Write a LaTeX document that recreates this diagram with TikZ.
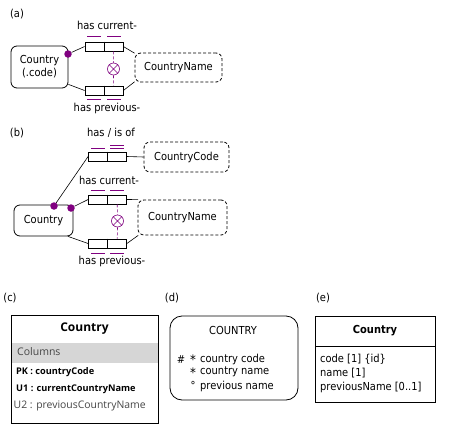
\documentclass[tikz,border=0pt]{standalone}
\usepackage{fontspec}
\setmainfont{DejaVu Sans}[FakeStretch=0.9]
\newfontfamily\segoe{Open Sans}
\usetikzlibrary{calc}
\definecolor{ormpurple}{RGB}{128,0,128}
\definecolor{bandgray}{RGB}{214,214,214}
\definecolor{txtgray}{RGB}{70,70,70}
\tikzset{
  lbl/.style={inner sep=0, font=\fontsize{11}{13}\selectfont},
  ent/.style={draw, rounded corners=6pt, inner sep=0, line width=0.8pt, align=center, font=\fontsize{11}{13}\selectfont},
  val/.style={ent, dash pattern=on 3pt off 2pt},
  rolebox/.style={draw, minimum width=38pt, minimum height=9pt, inner sep=0, line width=0.8pt},
  conn/.style={line width=0.6pt},
  ubar/.style={draw=ormpurple, line width=1pt},
  rdot/.style={circle, fill=ormpurple, minimum size=7.5pt, inner sep=0},
  xcirc/.style={circle, draw=ormpurple, minimum size=12pt, inner sep=0, line width=0.6pt},
  subl/.style={draw=ormpurple, line width=0.6pt, dash pattern=on 3pt off 2pt},
  tbl/.style={inner sep=0, anchor=west},
}
\begin{document}
\begin{tikzpicture}[x=1pt,y=-1pt]
\useasboundingbox[fill=white] (0,0) rectangle (450,437);

% ---------------- panel (a)
\node[lbl] (la) at (17,14) {(a)};
\node[lbl] (tA1) at (107,25) {has current-};
\node[lbl] (tA2) at (107,108) {has previous-};
\node[ent, minimum width=57pt, minimum height=42pt] (cA) at (39.5,67) {Country\\(.code)};
\node[val, minimum width=87pt, minimum height=29pt] (vA) at (178.5,67.5) {CountryName};
\node[rolebox] (rA1) at (104,46.5) {};
\node[rolebox] (rA2) at (104,90.5) {};
\draw[conn] (rA1.north) -- (rA1.south);
\draw[conn] (rA2.north) -- (rA2.south);
\draw[ubar] (87,36) -- (101,36) (107,36) -- (121,36);
\draw[ubar] (87,99) -- (101,99) (107,99) -- (121,99);
\node[rdot] (dA) at (68,54) {};
\draw[conn] (dA) -- (rA1.west);
\draw[conn] (cA.-31) -- (rA2.west);
\draw[conn] (rA1.east) -- (vA.162);
\draw[conn] (rA2.east) -- (vA.198);
\node[xcirc] (xA) at (113.5,69) {};
\draw[draw=ormpurple, line width=0.6pt] (xA.45) -- (xA.225) (xA.135) -- (xA.315);
\draw[subl] ($(rA1.south)!0.5!(rA1.south east)$) -- (xA.north);
\draw[subl] (xA.south) -- ($(rA2.north)!0.5!(rA2.north east)$);

% ---------------- panel (b)
\node[lbl] (lb) at (17,133) {(b)};
\node[lbl] (tB0) at (111,133) {has / is of};
\node[lbl] (tB1) at (109,180) {has current-};
\node[lbl] (tB2) at (112,261) {has previous-};
\node[ent, minimum width=59pt, minimum height=31pt] (cB) at (43.5,220.5) {Country};
\node[val, minimum width=85pt, minimum height=30pt] (kB) at (186.5,157) {CountryCode};
\node[val, minimum width=89pt, minimum height=35pt] (vB) at (182.5,217.5) {CountryName};
\node[rolebox] (rB0) at (107.5,156.5) {};
\node[rolebox] (rB1) at (107.5,199.5) {};
\node[rolebox] (rB2) at (107.5,243.5) {};
\draw[conn] (rB0.north) -- (rB0.south);
\draw[conn] (rB1.north) -- (rB1.south);
\draw[conn] (rB2.north) -- (rB2.south);
\draw[ubar] (91,148) -- (105,148) (110,148) -- (124,148) (110,145) -- (124,145);
\draw[ubar] (91,190) -- (105,190) (110,190) -- (124,190);
\draw[ubar] (91,253) -- (105,253) (110,253) -- (124,253);
\node[rdot] (dB1) at (54,206) {};
\node[rdot] (dB2) at (71,208) {};
\draw[conn] (dB1) -- (rB0.west);
\draw[conn] (dB2) -- (rB1.west);
\draw[conn] (cB.-33) -- (rB2.west);
\draw[conn] (rB0.east) -- (kB.west);
\draw[conn] (rB1.east) -- (vB.158);
\draw[conn] (rB2.east) -- (vB.202);
\node[xcirc] (xB) at (117.5,221) {};
\draw[draw=ormpurple, line width=0.6pt] (xB.45) -- (xB.225) (xB.135) -- (xB.315);
\draw[subl] ($(rB1.south)!0.5!(rB1.south east)$) -- (xB.north);
\draw[subl] (xB.south) -- ($(rB2.north)!0.5!(rB2.north east)$);

% ---------------- panel (c)
\node[lbl] (lc) at (10,298) {(c)};
\fill[bandgray] (11.5,343) rectangle (157.5,363);
\draw[line width=1pt] (11,315) rectangle (158,423);
\node[inner sep=0, font=\segoe\bfseries\fontsize{12}{14}\selectfont] (cT) at (84.5,329) {Country};
\node[tbl, text=txtgray, font=\segoe\fontsize{10.5}{12}\selectfont] (cCol) at (17,352) {Columns};
\node[tbl, font=\segoe\bfseries\fontsize{9.2}{11}\selectfont] (cPK) at (16,372) {PK : countryCode};
\node[tbl, font=\segoe\bfseries\fontsize{9.2}{11}\selectfont] (cU1) at (16,389) {U1 : currentCountryName};
\node[tbl, text=txtgray, font=\segoe\fontsize{10.4}{12}\selectfont] (cU2) at (13.5,406) {U2 : previousCountryName};

% ---------------- panel (d)
\node[lbl] (ld) at (172,298) {(d)};
\draw[line width=0.8pt, rounded corners=12pt] (170,316) rectangle (298,400);
\node[lbl] (dT) at (233,330) {COUNTRY};
\node[lbl] (dH) at (181,360) {\#};
\node[lbl, font=\fontsize{13}{13}\selectfont] (dS1) at (193,360) {*};
\node[lbl, font=\fontsize{13}{13}\selectfont] (dS2) at (193,373) {*};
\node[lbl] (dS3) at (193,385) {°};
\node[lbl, anchor=west] (dA1) at (200,359) {country code};
\node[lbl, anchor=west] (dA2) at (200,372) {country name};
\node[lbl, anchor=west] (dA3) at (200,386) {previous name};

% ---------------- panel (e)
\node[lbl] (le) at (323,298) {(e)};
\draw[line width=0.8pt] (315,316) rectangle (435,402);
\draw[line width=0.8pt] (315,346) -- (435,346);
\node[lbl, font=\bfseries\fontsize{11}{13}\selectfont] (eT) at (375,331) {Country};
\node[lbl, anchor=west] (eA1) at (320,359) {code [1] \{id\}};
\node[lbl, anchor=west] (eA2) at (320,373) {name [1]};
\node[lbl, anchor=west] (eA3) at (320,387) {previousName [0..1]};
\end{tikzpicture}
\end{document}
